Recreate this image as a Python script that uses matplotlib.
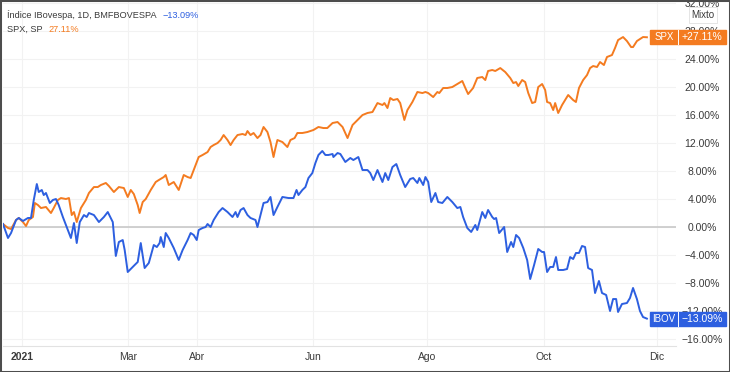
import matplotlib
matplotlib.use("Agg")
import matplotlib.pyplot as plt
from matplotlib.patches import Rectangle
from matplotlib.lines import Line2D

plt.rcParams['font.family'] = ['Liberation Sans', 'DejaVu Sans']

# trading-day index (0 = first session of 2021) and % change
ibov_days = [-7.0, -5.2, -4.1, -2.3, -1.3, 0.2, 2.0, 3.1, 4.1, 5.2, 5.9, 7.0, 7.7, 8.5, 9.2, 9.9,
             11.0, 12.1, 13.1, 14.6, 15.7, 17.5, 18.6, 19.6, 20.7, 22.2, 23.2, 24.0, 25.8, 27.6,
             29.4, 30.8, 32.6, 33.7, 34.8, 36.2, 36.9, 38.0, 39.4, 40.5, 41.6, 42.7, 44.1, 45.6,
             47.4, 48.5, 49.5, 49.9, 51.0, 51.7, 52.8, 54.6, 56.4, 57.8, 59.6, 60.7, 61.8, 62.9,
             63.6, 65.0, 66.1, 66.8, 67.9, 69.0, 70.8, 72.2, 74.0, 75.8, 76.9, 77.6, 78.7, 79.8,
             81.2, 82.3, 84.1, 84.8, 85.9, 87.0, 88.4, 89.5, 90.6, 92.0, 93.8, 96.0, 97.8, 98.9,
             99.6, 101.0, 102.1, 103.2, 104.6, 105.7, 106.8, 108.2, 109.3, 110.4, 111.9, 112.2,
             113.7, 114.7, 116.5, 118.3, 119.4, 121.2, 122.7, 124.5, 125.5, 126.6, 128.1, 129.9,
             130.9, 132.0, 133.5, 134.9, 136.3, 138.1, 139.9, 141.0, 142.5, 143.2, 144.6, 145.4,
             146.4, 147.5, 149.0, 150.0, 151.5, 153.3, 155.1, 156.9, 158.0, 159.0, 160.5, 161.9,
             163.4, 164.1, 165.9, 167.0, 168.0, 169.5, 170.2, 170.9, 172.0, 173.8, 174.9, 176.3,
             177.1, 178.1, 179.2, 180.7, 182.1, 183.2, 184.6, 186.1, 187.5, 188.2, 189.3, 190.4,
             191.5, 192.5, 193.3, 195.1, 196.5, 197.6, 198.7, 199.7, 200.8, 201.9, 203.0, 204.1,
             205.5, 206.6, 208.0, 209.1, 210.6, 212.0, 213.1, 214.2, 214.9, 216.3, 218.1, 219.2,
             220.3, 221.7, 222.8, 223.9, 225.3]
ibov_pct = [0.43, -1.57, -0.86, 1.00, 1.29, 0.86, 1.29, 1.29, 3.86, 6.14, 5.00, 5.29, 4.57, 4.86,
            4.14, 3.43, 3.86, 4.00, 3.14, 1.43, 0.29, -1.57, 0.57, -2.29, 0.71, 1.71, 1.43, 2.00,
            1.71, 0.71, 1.43, 2.14, 0.71, -4.14, -2.14, -1.86, -3.29, -6.43, -5.86, -5.43, -5.00,
            -2.29, -5.86, -5.14, -2.57, -2.86, -2.29, -1.43, -2.86, -0.86, -1.57, -3.00, -4.71,
            -3.29, -1.86, -0.86, -1.14, -1.86, -0.43, -0.14, 0.00, 0.43, 0.00, 1.00, 2.14, 2.71,
            2.14, 1.43, 2.14, 1.43, 2.43, 2.71, 1.71, 1.29, 1.00, 0.00, 1.71, 3.43, 3.57, 4.29,
            1.71, 2.86, 4.29, 4.14, 4.14, 5.29, 4.57, 5.29, 5.71, 7.00, 7.71, 9.14, 10.29, 10.86,
            10.29, 10.29, 10.43, 10.00, 10.57, 10.43, 9.29, 9.86, 9.57, 10.00, 8.14, 8.14, 7.71,
            6.71, 8.14, 6.43, 7.71, 6.71, 8.57, 9.00, 7.43, 5.71, 6.86, 7.00, 6.29, 7.00, 6.00,
            7.14, 6.43, 3.57, 4.86, 3.57, 3.43, 4.29, 3.57, 2.71, 2.86, 1.43, -0.14, -0.71, 0.29,
            -0.43, 2.14, 1.29, 2.43, 1.43, 1.14, 1.29, -0.86, 0.00, -3.57, -2.14, -2.86, -1.14,
            -1.57, -3.00, -4.71, -7.43, -5.43, -3.14, -3.57, -3.57, -6.43, -5.71, -5.71, -4.29,
            -6.14, -6.14, -6.00, -4.29, -4.57, -3.71, -3.71, -2.71, -2.86, -5.86, -6.14, -9.43,
            -7.71, -9.43, -9.71, -12.00, -10.29, -10.29, -12.14, -11.00, -10.86, -10.14, -8.71,
            -10.29, -12.00, -12.86, -13.09]

spx_days = [-7.0, -5.2, -4.1, -2.3, -1.3, 0.2, 1.3, 2.3, 3.8, 4.5, 5.6, 6.7, 8.5, 10.3, 11.3, 12.8,
            13.9, 15.7, 16.8, 17.8, 18.6, 19.6, 21.1, 22.9, 24.0, 25.8, 27.2, 28.3, 30.1, 31.2,
            33.0, 34.8, 36.6, 38.0, 39.1, 40.2, 41.6, 42.3, 43.4, 44.5, 46.3, 48.1, 49.2, 51.0,
            51.7, 52.8, 54.6, 56.4, 58.2, 59.6, 60.7, 61.8, 63.6, 65.0, 66.8, 67.9, 69.0, 70.4,
            71.5, 72.6, 74.0, 75.1, 76.2, 77.6, 79.4, 80.5, 81.2, 82.3, 83.4, 84.8, 85.9, 87.0,
            88.4, 89.5, 90.6, 91.3, 92.0, 93.8, 95.6, 96.7, 98.2, 99.2, 101.0, 102.8, 105.0,
            106.8, 108.6, 110.0, 111.9, 113.7, 115.5, 117.3, 119.1, 120.9, 122.7, 124.5, 126.3,
            128.1, 129.9, 130.6, 131.7, 132.7, 133.8, 135.3, 136.3, 137.8, 138.9, 140.7, 142.5,
            144.3, 145.4, 146.4, 148.2, 149.7, 150.4, 151.8, 153.3, 155.1, 156.9, 158.7, 159.8,
            160.8, 162.6, 164.1, 165.9, 167.0, 168.0, 169.5, 170.6, 172.4, 174.2, 176.0, 177.1,
            178.1, 178.9, 180.3, 181.4, 182.5, 183.9, 185.0, 186.1, 187.5, 188.6, 189.3, 190.4,
            191.5, 192.2, 193.3, 194.7, 195.8, 196.9, 198.7, 199.7, 200.8, 202.3, 203.7, 204.8,
            205.9, 207.3, 208.4, 209.8, 210.9, 212.7, 213.8, 214.9, 216.7, 218.1, 219.6, 220.3,
            221.7, 222.8, 223.9, 225.3]
spx_pct = [0.43, -0.14, -0.29, 1.00, 1.29, 0.71, 0.14, 1.00, 1.43, 3.43, 3.14, 2.71, 2.86, 2.00,
           2.71, 3.86, 4.14, 4.00, 4.14, 1.71, 2.14, 0.71, 2.71, 3.86, 4.86, 5.71, 5.71, 6.00,
           6.29, 5.86, 5.00, 5.71, 5.57, 4.29, 5.29, 4.71, 3.14, 2.00, 3.57, 4.00, 5.29, 6.43,
           6.71, 7.14, 7.43, 6.00, 6.43, 5.29, 7.43, 7.14, 7.00, 8.14, 10.00, 10.29, 10.71,
           11.43, 11.71, 12.00, 12.43, 13.14, 12.43, 11.71, 12.43, 13.14, 13.29, 13.14, 13.71,
           13.14, 13.43, 12.71, 13.14, 14.29, 13.57, 12.14, 10.00, 11.29, 12.43, 12.14, 11.43,
           12.43, 12.71, 13.43, 13.43, 13.57, 13.86, 14.29, 14.14, 14.14, 14.86, 15.00, 14.29,
           12.71, 14.57, 15.29, 16.00, 16.29, 16.43, 17.71, 17.43, 17.71, 17.00, 18.43, 18.14,
           18.29, 17.71, 15.29, 16.71, 17.86, 19.29, 19.14, 19.29, 19.14, 18.57, 19.29, 19.14,
           19.86, 19.86, 20.00, 20.43, 20.86, 19.86, 19.00, 19.86, 21.29, 21.43, 21.00, 22.29,
           22.43, 22.29, 22.71, 22.14, 21.29, 20.57, 20.71, 20.14, 21.00, 20.71, 19.14, 17.71,
           17.86, 20.00, 20.43, 19.57, 17.86, 17.71, 16.71, 17.71, 16.29, 17.43, 18.14, 18.86,
           18.14, 17.86, 19.86, 21.00, 21.71, 22.71, 23.00, 22.86, 23.57, 23.14, 24.29, 24.57,
           25.57, 26.71, 27.14, 26.57, 25.71, 25.71, 26.57, 26.86, 27.14, 27.11]

tick_days = [0, 38, 63, 105, 146, 188, 229]
tick_labels = ['2021', 'Mar', 'Abr', 'Jun', 'Ago', 'Oct', 'Dic']
y_ticks = list(range(-16, 33, 4))

ORANGE = '#f47b20'
BLUE = '#2d5fe0'
TEXT = '#3a3a3a'
W, H = 730, 372

fig = plt.figure(figsize=(W / 100, H / 100), dpi=100)
ax = fig.add_axes([3 / W, 26 / H, 673 / W, 345 / H])

ax.plot(spx_days, spx_pct, color=ORANGE, lw=1.4, zorder=3)
ax.plot(ibov_days, ibov_pct, color=BLUE, lw=1.4, zorder=4)
ax.axhline(0, color='#c9c9c9', lw=1.2, zorder=2)

ax.set_xlim(-7.0, 235.8)
ax.set_ylim(-17.0, 32.29)

ax.yaxis.tick_right()
ax.set_yticks(y_ticks, [f'{v:.2f}%'.replace('-', '\u2212') for v in y_ticks])
ax.tick_params(axis='y', length=0, pad=18.7, labelsize=7.5, labelcolor=TEXT)
for lab in ax.get_yticklabels():
    lab.set_horizontalalignment('center')

ax.set_xticks(tick_days, tick_labels)
ax.tick_params(axis='x', length=0, pad=4.5, labelsize=7.5, labelcolor=TEXT)
ax.get_xticklabels()[0].set_fontweight('bold')

ax.grid(color='#f2f2f2', lw=0.8, zorder=0)
for side in ['top', 'left', 'right']:
    ax.spines[side].set_visible(False)
ax.spines['bottom'].set_color('#e2e2e2')

# legend lines top-left
fig.canvas.draw()
rend = fig.canvas.get_renderer()


def legend_line(y_px, label, value, color):
    t = fig.text(7 / W, 1 - y_px / H, label, fontsize=6.6, color=TEXT, va='center')
    bb = t.get_window_extent(rend)
    fig.text((bb.x1 + 6) / W, 1 - y_px / H, value, fontsize=6.6, color=color, va='center')


legend_line(15, 'Índice IBovespa, 1D, BMFBOVESPA', '\u221213.09%', BLUE)
legend_line(29, 'SPX, SP', '27.11%', ORANGE)


def badge(value, name, text, color):
    yc = ax.transData.transform((0, value))[1] / H
    h = 14 / H
    fig.patches.append(Rectangle((650 / W, yc - h / 2), 76 / W, h, transform=fig.transFigure,
                                 color=color, zorder=5))
    fig.add_artist(Line2D([678 / W] * 2, [yc - h / 2, yc + h / 2], transform=fig.transFigure,
                          color='white', lw=0.7, zorder=6))
    fig.text(664 / W, yc, name, color='white', fontsize=7, ha='center', va='center', zorder=7)
    fig.text(702 / W, yc, text, color='white', fontsize=7.5, ha='center', va='center', zorder=7)


badge(spx_pct[-1], 'SPX', '+27.11%', ORANGE)
badge(ibov_pct[-1], 'IBOV', '\u221213.09%', BLUE)

fig.text(703 / W, 1 - 15 / H, 'Mixto', fontsize=7, color=TEXT, ha='center', va='center',
         bbox=dict(boxstyle='square,pad=0.3', fc='white', ec='#e0e0e0', lw=0.6), zorder=8)

fig.patches.append(Rectangle((0, 0), 1, 1, transform=fig.transFigure, fill=False,
                             ec='#4d4d4d', lw=2.2, zorder=10))

fig.savefig('out.png', dpi=100)
